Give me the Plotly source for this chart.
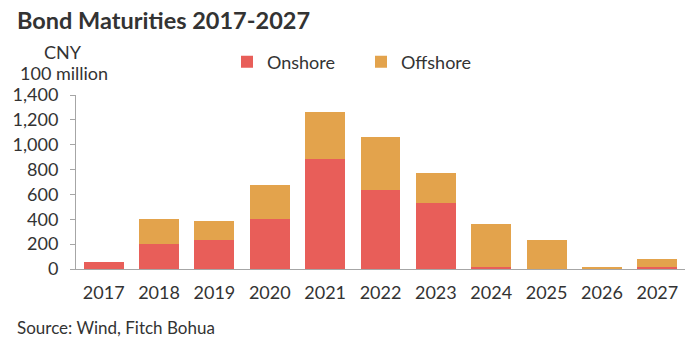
import plotly.graph_objects as go

years = ["2017", "2018", "2019", "2020", "2021", "2022", "2023", "2024", "2025", "2026", "2027"]
onshore = [54, 201, 233, 402, 887, 635, 531, 20, 0, 0, 20]
offshore = [0, 199, 151, 273, 375, 426, 241, 345, 231, 20, 60]

y_ticks = [0, 200, 400, 600, 800, 1000, 1200, 1400]
y_tick_labels = ["0", "200", "400", "600", "800", "1,000", "1,200", "1,400"]

ON_COLOR = "#E85E59"
OFF_COLOR = "#E3A34C"
TEXT = "#333333"
FONT = "Lato"

W, H = 697, 347
L, R, T, B = 76, 12, 95, 78
pw, ph = W - L - R, H - T - B

def px(x):
    return (x - L) / pw

def py(y):
    return (H - B - y) / ph

fig = go.Figure()
fig.add_trace(go.Bar(x=years, y=onshore, name="Onshore", marker=dict(color=ON_COLOR, line=dict(width=0))))
fig.add_trace(go.Bar(x=years, y=offshore, name="Offshore", marker=dict(color=OFF_COLOR, line=dict(width=0))))

fig.update_layout(
    width=W, height=H,
    margin=dict(l=L, r=R, t=T, b=B, pad=0),
    barmode="stack", bargap=0.28,
    plot_bgcolor="white", paper_bgcolor="white",
    font=dict(family=FONT, size=18, color=TEXT),
    legend=dict(
        orientation="h", x=px(227), y=py(62), xanchor="left", yanchor="middle",
        font=dict(size=18, color=TEXT), traceorder="normal",
        entrywidth=89, entrywidthmode="pixels", itemwidth=30,
        bgcolor="rgba(0,0,0,0)",
    ),
    xaxis=dict(
        type="category", showline=True, linecolor="#A6A6A6", linewidth=1,
        ticks="", showgrid=False, tickfont=dict(size=18, color=TEXT),
        ticklabelstandoff=7,
    ),
    yaxis=dict(
        range=[0, 1400], tickvals=y_ticks, ticktext=y_tick_labels,
        showline=True, linecolor="#A6A6A6", linewidth=1,
        ticks="outside", ticklen=5, tickcolor="#A6A6A6",
        showgrid=False, zeroline=False, tickfont=dict(size=18, color=TEXT),
        ticklabelstandoff=8,
    ),
    annotations=[
        dict(text="<b>Bond Maturities 2017-2027</b>", xref="paper", yref="paper",
             x=px(15), y=py(20), xanchor="left", yanchor="middle", showarrow=False,
             font=dict(size=23.5, color=TEXT, family=FONT)),
        dict(text="CNY", xref="paper", yref="paper", x=px(63), y=py(52),
             xanchor="center", yanchor="middle", showarrow=False,
             font=dict(size=18, color=TEXT)),
        dict(text="100 million", xref="paper", yref="paper", x=px(64), y=py(73),
             xanchor="center", yanchor="middle", showarrow=False,
             font=dict(size=18, color=TEXT)),
        dict(text="Source: Wind, Fitch Bohua", xref="paper", yref="paper",
             x=px(15), y=py(327), xanchor="left", yanchor="middle", showarrow=False,
             font=dict(size=17, color=TEXT)),
    ],
)

fig.write_html("out.html")
